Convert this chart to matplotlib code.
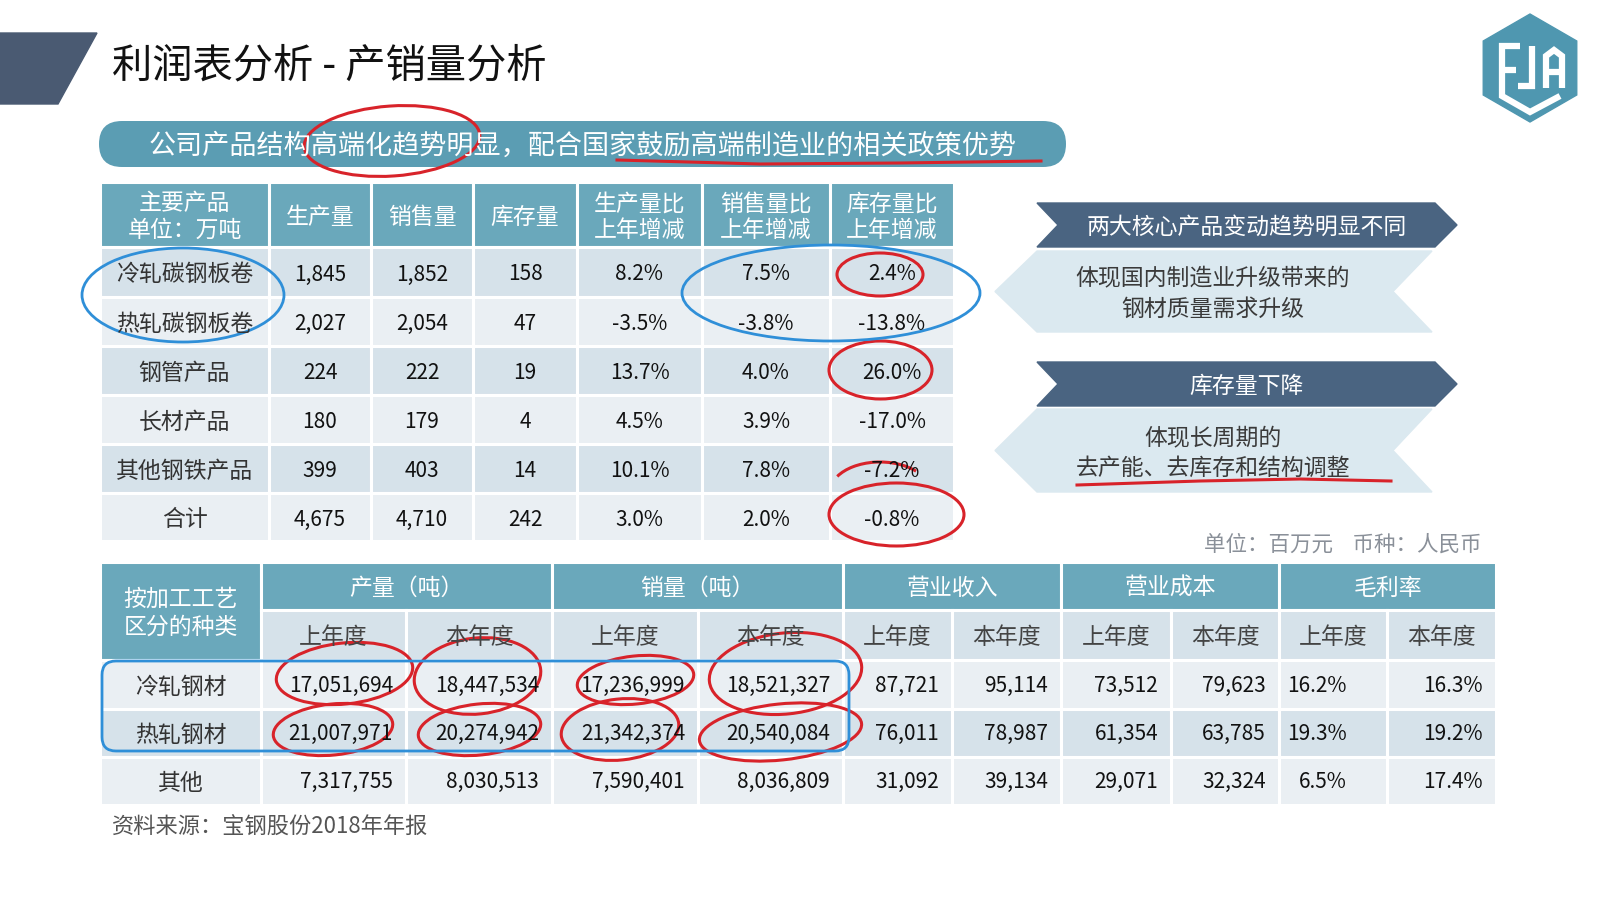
import matplotlib
matplotlib.use('Agg')
import matplotlib.pyplot as plt
from matplotlib.patches import Rectangle, Polygon, Ellipse, FancyBboxPatch, Arc

plt.rcParams['font.family'] = ['Noto Sans CJK SC', 'DejaVu Sans']

# ---- data: top table (万吨) ----
top_products = ['冷轧碳钢板卷', '热轧碳钢板卷', '钢管产品', '长材产品', '其他钢铁产品', '合计']
top_production = [1845, 2027, 224, 180, 399, 4675]
top_sales = [1852, 2054, 222, 179, 403, 4710]
top_inventory = [158, 47, 19, 4, 14, 242]
prod_yoy = [8.2, -3.5, 13.7, 4.5, 10.1, 3.0]
sales_yoy = [7.5, -3.8, 4.0, 3.9, 7.8, 2.0]
inv_yoy = [2.4, -13.8, 26.0, -17.0, -7.2, -0.8]
top_headers = ['主要产品\n单位：万吨', '生产量', '销售量', '库存量',
               '生产量比\n上年增减', '销售量比\n上年增减', '库存量比\n上年增减']

# ---- data: bottom table ----
bottom_types = ['冷轧钢材', '热轧钢材', '其他']
output_prev = [17051694, 21007971, 7317755]
output_cur = [18447534, 20274942, 8030513]
sales_prev = [17236999, 21342374, 7590401]
sales_cur = [18521327, 20540084, 8036809]
rev_prev = [87721, 76011, 31092]
rev_cur = [95114, 78987, 39134]
cost_prev = [73512, 61354, 29071]
cost_cur = [79623, 63785, 32324]
margin_prev = [16.2, 19.3, 6.5]
margin_cur = [16.3, 19.2, 17.4]
group_headers = ['产量（吨）', '销量（吨）', '营业收入', '营业成本', '毛利率']
year_labels = ['上年度', '本年度']

HEAD = '#6aa8bb'
DARK = '#d6e2ea'
LIGHT = '#eaeff3'
NAVY = '#4a6481'
RED = '#d8232a'
BLUE = '#2f8fd8'
DY = 2.5  # nudge text down a bit, CJK glyph boxes sit high

fig = plt.figure(figsize=(16, 9), dpi=100)
ax = fig.add_axes([0, 0, 1, 1])
ax.set_xlim(0, 1600)
ax.set_ylim(900, 0)
ax.axis('off')


def cell(x0, x1, y0, y1, color):
    ax.add_patch(Rectangle((x0, y0), x1 - x0, y1 - y0, facecolor=color,
                           edgecolor='white', lw=2.2))


# title block
ax.add_patch(Polygon([(0, 33), (97, 33), (58, 104), (0, 104)], color='#4a5a72'))
ax.text(112, 66, '利润表分析 - 产销量分析', fontsize=29, color='#111111',
        va='center', ha='left')

# logo
cx, cy, R = 1530, 68, 54
hexpts = [(cx, cy - R), (cx + 0.866 * R, cy - R / 2), (cx + 0.866 * R, cy + R / 2),
          (cx, cy + R), (cx - 0.866 * R, cy + R / 2), (cx - 0.866 * R, cy - R / 2)]
ax.add_patch(Polygon(hexpts, color='#4f97b0'))
for xs, ys in [([1520, 1502, 1502, 1530, 1560], [46, 46, 96, 112, 96]),
               ([1502, 1516], [70, 70]),
               ([1532, 1532, 1518], [46, 86, 86]),
               ([1546, 1546, 1554, 1562, 1562], [88, 56, 50, 56, 88]),
               ([1546, 1562], [72, 72])]:
    ax.plot(xs, ys, color='white', lw=4.5, solid_capstyle='butt', solid_joinstyle='miter')

# banner
ax.add_patch(FancyBboxPatch((99, 121), 967, 46, boxstyle='round,pad=0,rounding_size=23',
                            facecolor='#5b9db3', edgecolor='none'))
ax.text(583, 144 + DY, '公司产品结构高端化趋势明显，配合国家鼓励高端制造业的相关政策优势',
        fontsize=19.5, color='white', ha='center', va='center')

# top table
tcols = [100, 269, 371, 473, 577, 702, 830, 954]
trows = [182, 247, 297, 346, 395, 444, 493, 541]
for j, h in enumerate(top_headers):
    cell(tcols[j], tcols[j + 1], trows[0], trows[1], HEAD)
    ax.text((tcols[j] + tcols[j + 1]) / 2, (trows[0] + trows[1]) / 2 + DY, h, fontsize=16.5,
            color='white', ha='center', va='center', linespacing=1.2)
for i, name in enumerate(top_products):
    bg = DARK if i % 2 == 0 else LIGHT
    vals = [name, f'{top_production[i]:,}', f'{top_sales[i]:,}', f'{top_inventory[i]:,}',
            f'{prod_yoy[i]:.1f}%', f'{sales_yoy[i]:.1f}%', f'{inv_yoy[i]:.1f}%']
    y0, y1 = trows[i + 1], trows[i + 2]
    for j, v in enumerate(vals):
        cell(tcols[j], tcols[j + 1], y0, y1, bg)
        ax.text((tcols[j] + tcols[j + 1]) / 2, (y0 + y1) / 2 + DY, v,
                fontsize=16.5 if j == 0 else 15, color='#333333' if j == 0 else '#111111',
                ha='center', va='center')

# right side chevrons
def dark_arrow(y0, y1, text):
    ym = (y0 + y1) / 2
    ax.add_patch(Polygon([(1037, y0), (1435, y0), (1457, ym), (1435, y1), (1037, y1), (1058, ym)],
                         color=NAVY))
    ax.text(1247, ym + DY, text, fontsize=16.5, color='white', ha='center', va='center')


def light_arrow(y0, y1, text):
    ym = (y0 + y1) / 2
    ax.add_patch(Polygon([(1037, y0), (1432, y0), (1393, ym), (1432, y1), (1037, y1), (995, ym)],
                         color='#dbe9f0'))
    ax.text(1213, ym + DY, text, fontsize=16.5, color='#3a3a3a', ha='center', va='center',
            linespacing=1.4)


dark_arrow(203, 247, '两大核心产品变动趋势明显不同')
light_arrow(251, 332, '体现国内制造业升级带来的\n钢材质量需求升级')
dark_arrow(362, 406, '库存量下降')
light_arrow(409, 492, '体现长周期的\n去产能、去库存和结构调整')

ax.text(1482, 545, '单位：百万元    币种：人民币', fontsize=15.5, color='#8a9099',
        ha='right', va='center')

# bottom table
bcols = [100, 261, 406, 552, 698, 843, 952, 1061, 1171, 1279, 1387, 1496]
brows = [562, 610, 660, 709, 757, 805]
cell(bcols[0], bcols[1], brows[0], brows[2], HEAD)
ax.text((bcols[0] + bcols[1]) / 2, (brows[0] + brows[2]) / 2 + DY, '按加工工艺\n区分的种类',
        fontsize=16.5, color='white', ha='center', va='center', linespacing=1.3)
for g, h in enumerate(group_headers):
    x0, x1 = bcols[1 + 2 * g], bcols[3 + 2 * g]
    cell(x0, x1, brows[0], brows[1], HEAD)
    ax.text((x0 + x1) / 2, (brows[0] + brows[1]) / 2 + DY, h, fontsize=16.5, color='white',
            ha='center', va='center')
    for k in range(2):
        xa, xb = bcols[1 + 2 * g + k], bcols[2 + 2 * g + k]
        cell(xa, xb, brows[1], brows[2], DARK)
        ax.text((xa + xb) / 2, (brows[1] + brows[2]) / 2 + DY, year_labels[k], fontsize=16.5,
                color='#444444', ha='center', va='center')

pads = [13, 13, 13, 13, 13, 13, 13, 13, 40, 13]
for i, name in enumerate(bottom_types):
    bg = LIGHT if i % 2 == 0 else DARK
    y0, y1 = brows[i + 2], brows[i + 3]
    vals = [f'{output_prev[i]:,}', f'{output_cur[i]:,}', f'{sales_prev[i]:,}', f'{sales_cur[i]:,}',
            f'{rev_prev[i]:,}', f'{rev_cur[i]:,}', f'{cost_prev[i]:,}', f'{cost_cur[i]:,}',
            f'{margin_prev[i]:.1f}%', f'{margin_cur[i]:.1f}%']
    cell(bcols[0], bcols[1], y0, y1, bg)
    ax.text((bcols[0] + bcols[1]) / 2, (y0 + y1) / 2 + DY, name, fontsize=16.5, color='#333333',
            ha='center', va='center')
    for j, v in enumerate(vals):
        cell(bcols[j + 1], bcols[j + 2], y0, y1, bg)
        ax.text(bcols[j + 2] - pads[j], (y0 + y1) / 2 + 1, v, fontsize=15, color='#111111',
                ha='right', va='center')

ax.text(112, 827, '资料来源：宝钢股份2018年年报', fontsize=16, color='#555555',
        ha='left', va='center')

# hand-drawn annotations
def red_ring(x0, x1, y0, y1, ang=0):
    ax.add_patch(Ellipse(((x0 + x1) / 2, (y0 + y1) / 2), x1 - x0, y1 - y0, angle=ang,
                         fill=False, edgecolor=RED, lw=2.2))


red_ring(304, 480, 106, 176, -4)
ax.plot([617, 760, 900, 1041], [160, 164, 163, 161], color=RED, lw=2.2)
red_ring(837, 923, 253, 296)
red_ring(829, 932, 341, 399)
ax.add_patch(Arc((880, 492), 100, 60, theta1=200, theta2=330, edgecolor=RED, lw=2.2))
red_ring(829, 964, 483, 546)
ax.plot([1077, 1200, 1300, 1391], [485, 481, 479, 481], color=RED, lw=2.2)
for x0, x1, y0, y1 in [(276, 413, 643, 704), (414, 541, 638, 714), (577, 694, 656, 704),
                       (709, 862, 633, 714), (273, 393, 704, 755), (418, 541, 704, 755),
                       (561, 679, 699, 760), (699, 862, 704, 760)]:
    red_ring(x0, x1, y0, y1, -6)

ax.add_patch(Ellipse((183, 295), 202, 94, fill=False, edgecolor=BLUE, lw=2))
ax.add_patch(Ellipse((831, 293), 298, 96, fill=False, edgecolor=BLUE, lw=2))
ax.add_patch(FancyBboxPatch((102, 661), 747, 90, boxstyle='round,pad=0,rounding_size=14',
                            fill=False, edgecolor=BLUE, lw=2))

fig.savefig('out.png', dpi=100, facecolor='white')
